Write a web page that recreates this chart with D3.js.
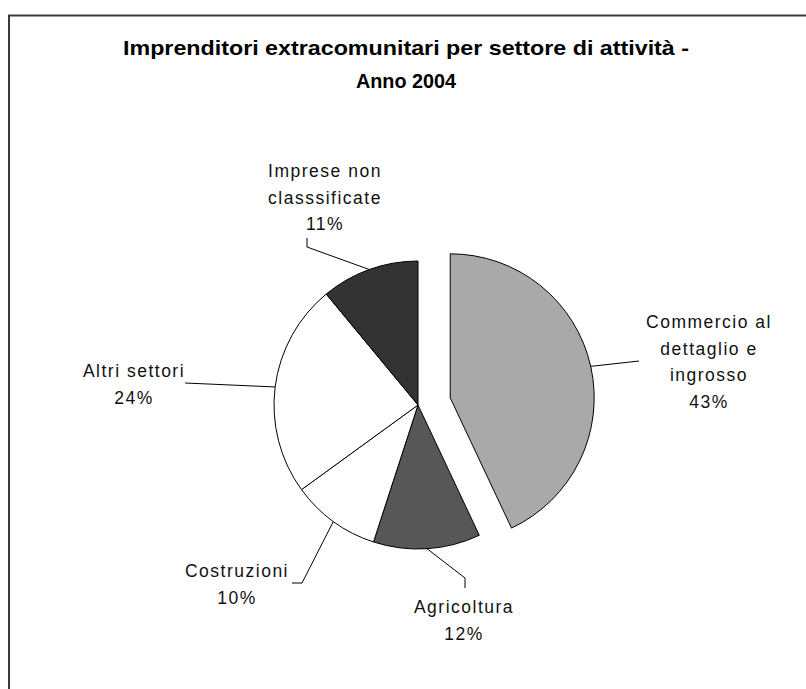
<!DOCTYPE html>
<html>
<head>
<meta charset="utf-8">
<script src="https://cdn.jsdelivr.net/npm/d3@7"></script>
<style>
  html, body { margin: 0; padding: 0; background: #fff; }
  svg { display: block; }
</style>
</head>
<body>
<script>
// ---- data ----
const categories = ["Commercio al dettaglio e ingrosso", "Agricoltura", "Costruzioni", "Altri settori", "Imprese non classsificate"];
const values = [43, 12, 10, 24, 11];
const labelLines = [
  ["Commercio al", "dettaglio e", "ingrosso"],
  ["Agricoltura"],
  ["Costruzioni"],
  ["Altri settori"],
  ["Imprese non", "classsificate"]
];
const titleLines = ["Imprenditori extracomunitari per settore di attività -", "Anno 2004"];

// ---- styling / layout ----
const colors = ["#a9a9a9", "#575757", "#ffffff", "#ffffff", "#333333"];
const W = 806, H = 689;
const cx = 418, cy = 405, R = 144, explode = 33;
// label layout: anchor x, first baseline y, leader elbow points (after arc point)
const labelLayout = [
  { x: 709, y: 328, elbows: [[639, 361]] },
  { x: 464, y: 613, elbows: [[465, 578], [465, 588]] },
  { x: 237, y: 577, elbows: [[302, 583], [292, 583]] },
  { x: 134, y: 377, elbows: [[185, 383]] },
  { x: 325, y: 177, elbows: [[307, 247], [307, 238]] }
];
const lineH = 26.5;
const titleWidths = [566, 100];

const svg = d3.select("body").append("svg").attr("width", W).attr("height", H);

// chart border
svg.append("rect")
  .attr("x", 9).attr("y", 15.5)
  .attr("width", W + 20).attr("height", H + 20)
  .attr("fill", "#fff").attr("stroke", "#3a3a3a").attr("stroke-width", 2);

// title
const title = svg.append("text")
  .attr("text-anchor", "middle")
  .attr("font-family", "Liberation Sans, Arial, sans-serif")
  .attr("font-weight", "bold")
  .attr("font-size", 21)
  .attr("fill", "#000");
titleLines.forEach((t, i) => {
  title.append("tspan").attr("x", 406).attr("y", 55 + i * 33).text(t)
    .attr("textLength", titleWidths[i]).attr("lengthAdjust", "spacingAndGlyphs");
});

const pie = d3.pie().sort(null).value(d => d).startAngle(0).endAngle(2 * Math.PI);
const arcs = pie(values);
const arc = d3.arc().innerRadius(0).outerRadius(R);
const edge = d3.arc().innerRadius(R).outerRadius(R);

const g = svg.append("g").attr("transform", `translate(${cx},${cy})`);

function offset(d, i) {
  if (i !== 0) return [0, 0];
  const a = (d.startAngle + d.endAngle) / 2;
  return [Math.sin(a) * explode, -Math.cos(a) * explode];
}

g.selectAll("path.slice")
  .data(arcs)
  .join("path")
  .attr("class", "slice")
  .attr("transform", (d, i) => { const o = offset(d, i); return `translate(${o[0]},${o[1]})`; })
  .attr("d", arc)
  .attr("fill", (d, i) => colors[i])
  .attr("stroke", "#000")
  .attr("stroke-width", 1)
  .attr("stroke-linejoin", "round");

// leader lines
arcs.forEach((d, i) => {
  const o = offset(d, i);
  const c = edge.centroid(d);
  const p0 = [cx + c[0] + o[0], cy + c[1] + o[1]];
  const pts = [p0].concat(labelLayout[i].elbows);
  svg.append("path")
    .attr("d", d3.line()(pts))
    .attr("fill", "none")
    .attr("stroke", "#000")
    .attr("stroke-width", 1);
});

// labels
arcs.forEach((d, i) => {
  const L = labelLayout[i];
  const t = svg.append("text")
    .attr("text-anchor", "middle")
    .attr("font-family", "Liberation Sans, Arial, sans-serif")
    .attr("font-size", 17.5)
    .attr("letter-spacing", "1.5px")
    .attr("fill", "#111");
  const lines = labelLines[i].concat([Math.round(d.data) + "%"]);
  lines.forEach((s, j) => {
    t.append("tspan").attr("x", L.x).attr("y", L.y + j * lineH).text(s);
  });
});
</script>
</body>
</html>
